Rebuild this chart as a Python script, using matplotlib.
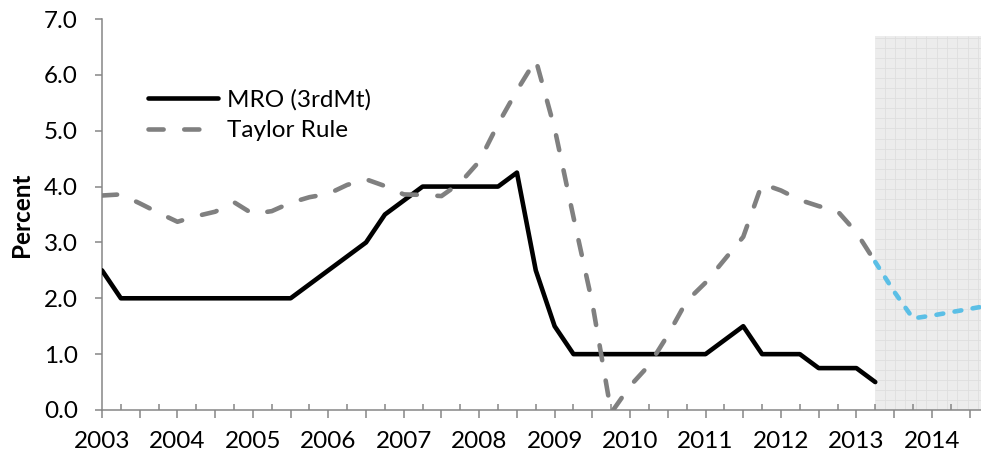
import numpy as np
import matplotlib.pyplot as plt
from matplotlib.ticker import FixedLocator, FixedFormatter

plt.rcParams['font.family'] = ['Lato', 'DejaVu Sans']

# quarterly observations, 2003Q1 onwards
years = list(range(2003, 2015))
mro = [2.5,
       2.0, 2.0, 2.0, 2.0, 2.0, 2.0, 2.0, 2.0, 2.0, 2.0,
       2.25, 2.5, 2.75, 3.0, 3.5, 3.75,
       4.0, 4.0, 4.0, 4.0, 4.0,
       4.25, 2.5, 1.5,
       1.0, 1.0, 1.0, 1.0, 1.0, 1.0, 1.0, 1.0,
       1.25, 1.5,
       1.0, 1.0, 1.0,
       0.75, 0.75, 0.75,
       0.5]
taylor = [3.84, 3.86, 3.70, 3.53, 3.37, 3.47, 3.55, 3.72, 3.51, 3.56,
          3.71, 3.81, 3.87, 4.03, 4.13, 4.01, 3.86, 3.85, 3.83, 4.07,
          4.45, 5.12, 5.72, 6.27, 5.04, 3.45, 1.91, -0.05, 0.43, 0.80,
          1.34, 1.95, 2.28, 2.69, 3.10, 4.05, 3.93, 3.76, 3.65, 3.56,
          3.18, 2.65]
# projection starts at the last observed quarter
taylor_forecast = [2.65, 2.12, 1.64, 1.69, 1.75, 1.81, 1.87]
forecast_start = 41
band_top = 6.7

n_quarters = 48
q_obs = np.arange(len(mro))
q_fc = np.arange(forecast_start, forecast_start + len(taylor_forecast))

fig = plt.figure(figsize=(9.81, 4.62), dpi=100)
ax = fig.add_axes([102 / 981, 52 / 462, n_quarters * 18.86 / 981, 391 / 462])

# shaded projection area with a fine grid
ax.fill_between([forecast_start, n_quarters], 0, band_top,
                color='#ececec', lw=0, zorder=0.2)
ax.vlines(np.arange(forecast_start + 0.5, n_quarters, 0.55), 0, band_top,
          color='#dedede', lw=0.6, zorder=0.3)
ax.hlines(np.arange(0.18, band_top, 0.18), forecast_start, n_quarters,
          color='#dedede', lw=0.6, zorder=0.3)

lw = 3.3
fs = 17.5
l_mro, = ax.plot(q_obs, mro, color='black', lw=lw, solid_joinstyle='round',
                 solid_capstyle='round', label='MRO (3rdMt)', zorder=3)
l_tay, = ax.plot(q_obs, taylor, color='#808080', lw=lw,
                 linestyle=(0, (3.3, 4.5)), dash_capstyle='round',
                 label='Taylor Rule', zorder=4)
ax.plot(q_fc, taylor_forecast, color='#5bbfe6', lw=lw,
        linestyle=(0, (1.5, 2.5)), dash_capstyle='round', zorder=5)

ax.set_xlim(0, n_quarters)
ax.set_ylim(0, 7)

for side in ['top', 'right']:
    ax.spines[side].set_visible(False)
for side in ['left', 'bottom']:
    ax.spines[side].set_color('#868686')
    ax.spines[side].set_linewidth(1.1)

ax.set_yticks(np.arange(0, 8))
ax.set_yticklabels(['%.1f' % v for v in range(8)])
ax.tick_params(axis='y', direction='out', length=5.3, width=1.1,
               color='#868686', pad=12, labelsize=fs)

major = list(range(0, n_quarters + 1, 2))
ax.xaxis.set_major_locator(FixedLocator(major))
ax.xaxis.set_major_formatter(FixedFormatter(
    [str(years[m // 4]) if m % 4 == 0 and m // 4 < len(years) else '' for m in major]))
ax.xaxis.set_minor_locator(FixedLocator(list(range(1, n_quarters, 2))))
ax.tick_params(axis='x', which='major', direction='out', length=6, width=1.1,
               color='#868686', pad=9, labelsize=fs)
ax.tick_params(axis='x', which='minor', direction='in', length=4.3, width=1.1,
               color='#868686')

ax.set_ylabel('Percent', fontsize=fs, fontweight='bold', labelpad=8)

ax.legend(handles=[l_mro, l_tay], loc='upper left', frameon=False,
          bbox_to_anchor=(148 / 981, 1 - 89 / 462), bbox_transform=fig.transFigure,
          borderpad=0, borderaxespad=0, handlelength=2.9, handletextpad=0.35,
          labelspacing=0.4, fontsize=fs)

fig.savefig('out.png', dpi=100)
